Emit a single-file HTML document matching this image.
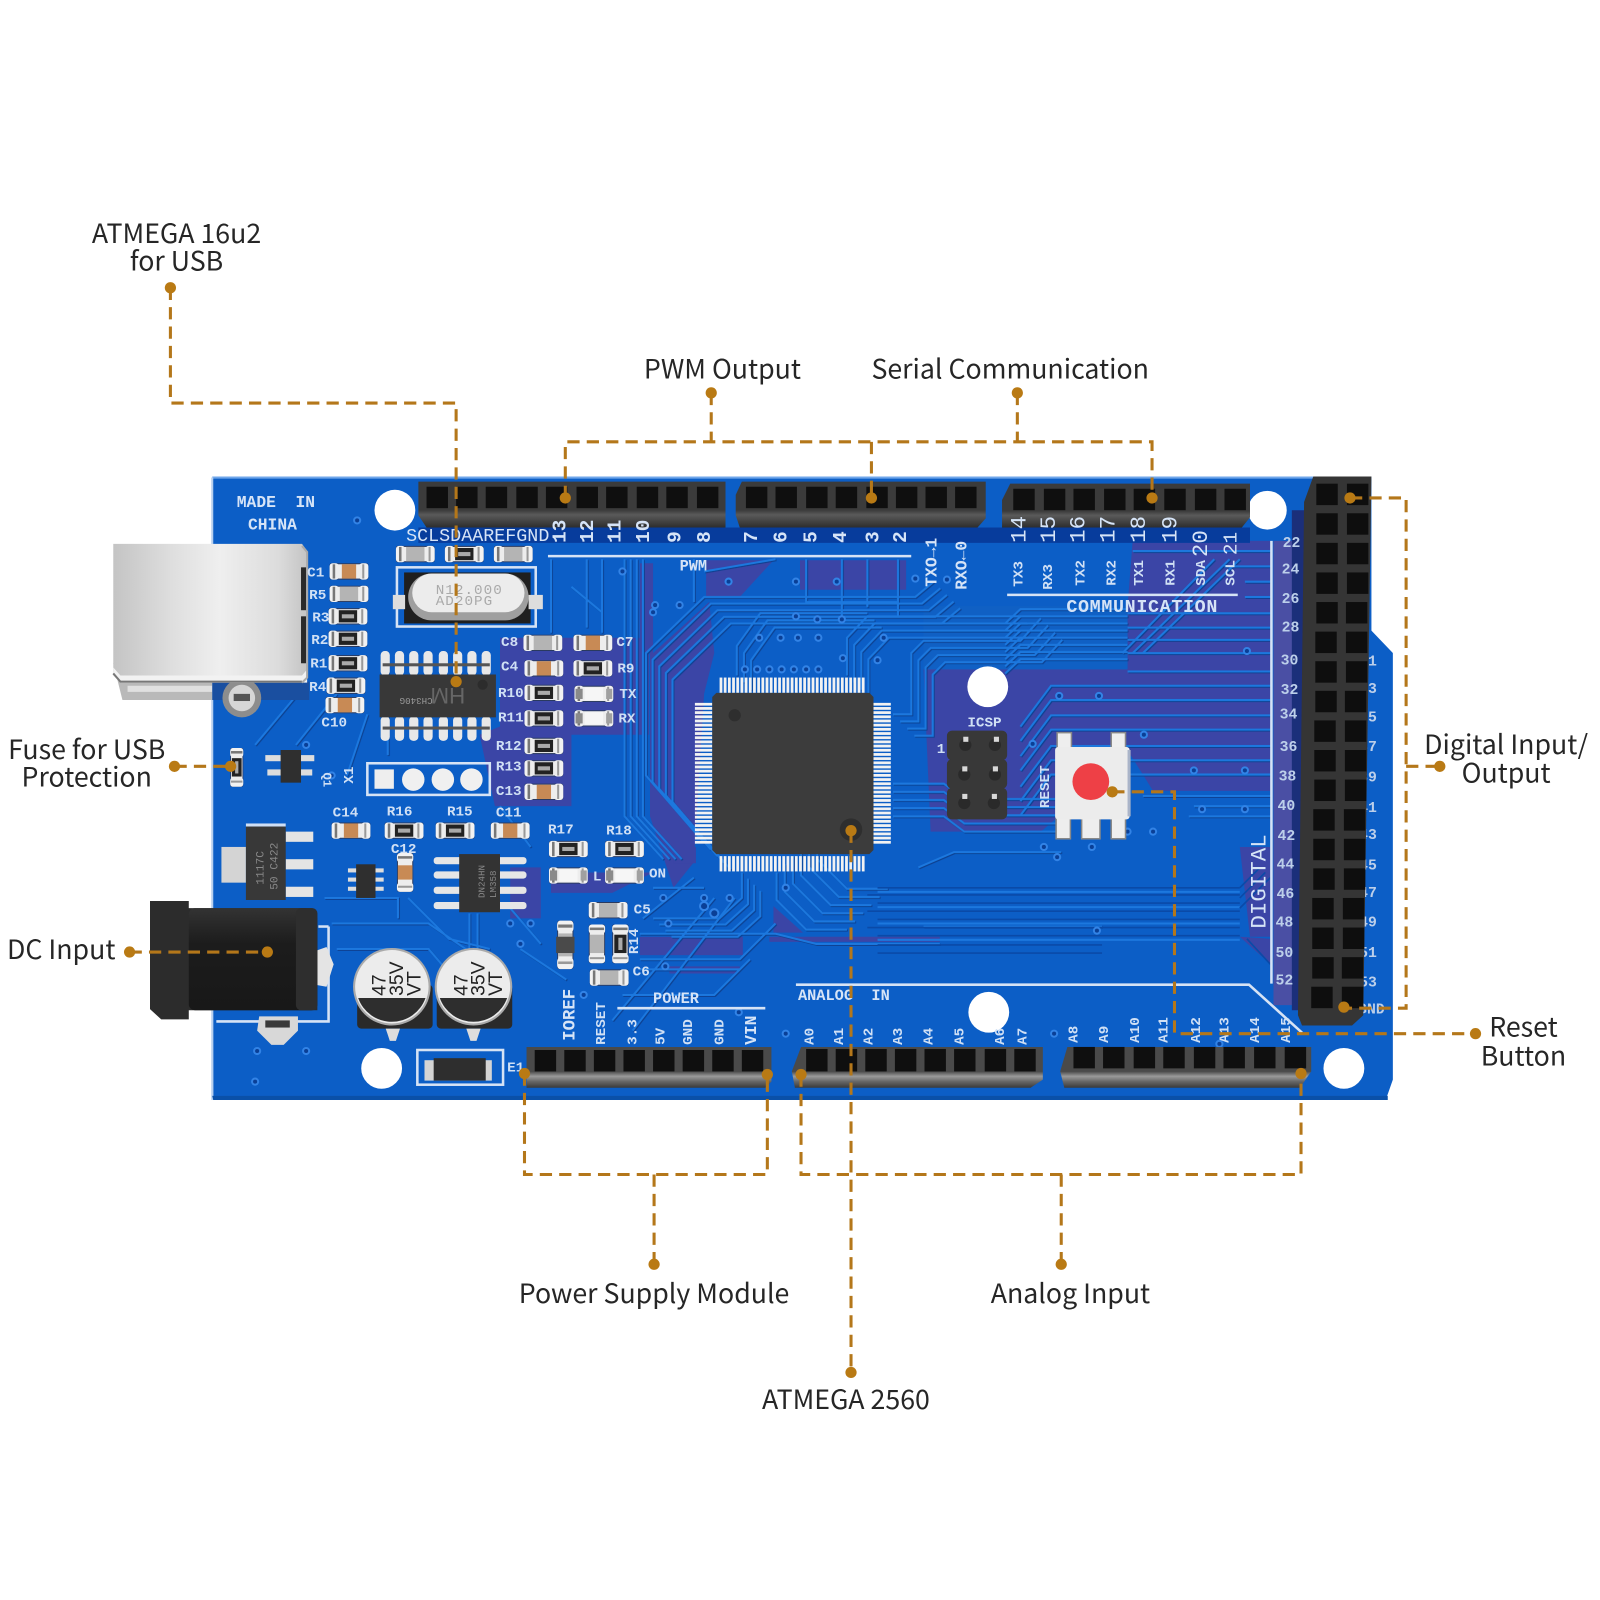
<!DOCTYPE html>
<html><head><meta charset="utf-8"><style>
html,body{margin:0;padding:0;background:#fff}
svg{display:block;width:1600px;height:1600px}
.l{font-family:"Noto Sans CJK SC","Liberation Sans",sans-serif;font-size:26.2px;fill:#262626;text-anchor:middle}
.s{font-family:"Liberation Mono",monospace;font-size:16px;fill:#d6e4f7;font-weight:bold}
.n{font-family:"Liberation Mono",monospace;font-size:14.5px;fill:#bccfea;font-weight:bold}
.r{font-family:"Liberation Mono",monospace;font-size:14px;fill:#d0e0f5;font-weight:bold}
.c{fill:none;stroke:#b4771a;stroke-width:3;stroke-dasharray:12 7}
.d{fill:#b97a14}
.t{fill:none;stroke:#1c78de;stroke-width:2}
.k{fill:none;stroke:#0a4aa8;stroke-width:1.6}
</style></head><body>
<svg viewBox="0 0 1568 1568" xmlns="http://www.w3.org/2000/svg">
<defs>
<filter id="sh" x="-5%" y="-5%" width="110%" height="110%"><feDropShadow dx="0.9" dy="0.9" stdDeviation="0" flood-color="#08408f"/></filter>
<linearGradient id="usb" x1="0" x2="1" y1="0" y2="0"><stop offset="0" stop-color="#c4c4c4"/><stop offset=".3" stop-color="#dedede"/><stop offset=".55" stop-color="#efefef"/><stop offset=".85" stop-color="#dcdcdc"/><stop offset="1" stop-color="#c4c4c4"/></linearGradient>
<linearGradient id="jack" x1="0" x2="0" y1="0" y2="1"><stop offset="0" stop-color="#333"/><stop offset=".35" stop-color="#1c1c1c"/><stop offset="1" stop-color="#181818"/></linearGradient>
<linearGradient id="hb" x1="0" x2="0" y1="0" y2="1"><stop offset="0" stop-color="#3b3b3b"/><stop offset=".62" stop-color="#3b3b3b"/><stop offset=".72" stop-color="#5a5a5a"/><stop offset="1" stop-color="#2d2d2d"/></linearGradient>
<linearGradient id="hb2" x1="0" x2="0" y1="0" y2="1"><stop offset="0" stop-color="#4a4a4a"/><stop offset=".6" stop-color="#4a4a4a"/><stop offset=".72" stop-color="#9a9a9a"/><stop offset=".85" stop-color="#666"/><stop offset="1" stop-color="#3a3a3a"/></linearGradient>
<g id="smd"><rect x="-19" y="-8" width="38" height="16" rx="2" fill="#2a3a60"/><rect x="-19" y="-8" width="9" height="16" rx="3" fill="#f2f2f2"/><rect x="10" y="-8" width="9" height="16" rx="3" fill="#f2f2f2"/><rect x="-13" y="-7" width="26" height="14" fill="#ededed"/><rect x="-16" y="-7" width="2.5" height="14" fill="#777"/><rect x="13" y="-7" width="2" height="14" fill="#999"/></g>
<g id="cap"><use href="#smd"/><rect x="-7" y="-7" width="14" height="14" fill="#c88a55"/></g>
<g id="gry"><use href="#smd"/><rect x="-9" y="-7" width="18" height="14" fill="#b4b4b4"/></g>
<g id="res"><use href="#smd"/><rect x="-9" y="-6" width="18" height="12" fill="#222"/><rect x="-6" y="-2" width="12" height="4" fill="#aaa"/></g>
<g id="led"><use href="#smd"/><rect x="-9" y="-6" width="18" height="12" fill="#f6f6f6"/><rect x="-18" y="-5" width="7" height="10" fill="#8a8a8a"/><rect x="12" y="-5" width="6" height="10" fill="#a0a0a0"/></g>
<pattern id="tp" x="0" y="0" width="4.1" height="15" patternUnits="userSpaceOnUse"><rect width="2.7" height="15" fill="#f2f2f2"/></pattern>
<pattern id="lp" x="0" y="0" width="15" height="4.1" patternUnits="userSpaceOnUse"><rect width="15" height="2.7" fill="#f2f2f2"/></pattern>
<path id="t2" class="t" d="M1000 712L1030 672H1245"/>
<path id="t5" class="t" d="M690 826L633 760V640L690 585H897L915 570"/>
<path id="t6" class="t" d="M761 855V882L790 911H830"/>
<path id="t7" class="t" d="M612 548V800L650 842"/>
<path id="t9" class="t" d="M722 662V633L745 601H850"/>
<path id="t10" class="t" d="M830 662V625L850 604H1000"/>
<path id="t11" class="t" d="M875 700H893V640L905 628H1000L1020 606"/>
<path id="t12" class="t" d="M875 800H925L945 815H1035"/>
<path id="t13" class="t" d="M727 855V880L705 900H640"/>
<path id="t14" class="t" d="M985 660L1000 646H1105"/>
</defs>

<!-- board -->
<path d="M208 468H1344V618L1365 640V1058L1358 1078H209Z" fill="#0c5ec6"/>
<path d="M208 468H1344" stroke="#6fa6ea" stroke-width="2"/>
<path d="M208 468V1078" stroke="#b8d0ee" stroke-width="2"/>
<path d="M208 1074H1360V1078H209Z" fill="#0a50a8"/>
<!-- purple zones -->
<g fill="#3b45a6">
<path d="M490 625L636 625V720L560 720L560 790L485 790L470 720L490 712Z"/>
<path d="M627 552H640V640L695 590L700 640L690 680L680 845L660 870L637 800V640L627 637Z"/>
<path d="M692 549H758L725 585H692Z"/>
<path d="M784 549H888V578H784Z"/>
<path d="M905 655H1105V594L1110 530H1245V775H1130L1108 740H1108L1020 815H912Z"/>
<path d="M627 918H728V936H627Z"/><path d="M656 947H725V954H656Z"/><path d="M758 888L787 914L758 914Z"/><path d="M754 918H921V923H754Z"/>
<path d="M660 830H682V846H660Z"/><path d="M540 855H640L600 875H540Z"/>
<path d="M1215 918L1245 945V920Z"/><path d="M1215 830H1245V918H1225Z"/>
<path d="M500 850H530V900H500Z"/>
</g>
<rect x="905" y="594" width="200" height="62" fill="#1060c4"/>
<path d="M410 517H1225V532H410Z" fill="#073c9c"/>
<path d="M1248 530H1272V985H1248Z" fill="#4a4fa4"/>
<path d="M1266 500H1282V990H1266Z" fill="#1b2f7a"/>
<!-- traces -->
<g filter="url(#sh)">
<use href="#t5"/><use href="#t5" x="6.5" y="6.5"/><use href="#t5" x="13" y="13"/><use href="#t5" x="19.5" y="19.5"/><use href="#t5" x="26" y="26"/>
<use href="#t6" x="0"/><use href="#t6" x="8" y="-8"/><use href="#t6" x="16" y="-16"/><use href="#t6" x="24" y="-24"/><use href="#t6" x="32" y="-32"/><use href="#t6" x="40" y="-40"/>
<use href="#t7"/><use href="#t7" x="6"/><use href="#t7" x="12"/><use href="#t7" x="18"/>
<use href="#t9"/><use href="#t9" x="7" y="7"/><use href="#t9" x="14" y="14"/>
<use href="#t10"/><use href="#t10" x="7" y="7"/><use href="#t10" x="14" y="14"/><use href="#t10" x="21" y="21"/>
<use href="#t11"/><use href="#t11" x="7" y="7"/><use href="#t11" x="14" y="14"/><use href="#t11" x="21" y="21"/>
<use href="#t12"/><use href="#t12" y="-8"/><use href="#t12" y="-16"/><use href="#t12" y="-24"/><use href="#t12" y="-32"/>
<use href="#t13"/><use href="#t13" x="6" y="6"/><use href="#t13" x="12" y="12"/><use href="#t13" x="18" y="18"/>
<use href="#t14"/><use href="#t14" y="-7"/><use href="#t14" y="-14"/><use href="#t14" y="-21"/><use href="#t14" y="-28"/><use href="#t14" y="-35"/><use href="#t14" y="-42"/><use href="#t14" y="-49"/>
<use href="#t2"/><use href="#t2" y="14"/><use href="#t2" y="29"/><use href="#t2" y="43"/><use href="#t2" y="59"/><use href="#t2" y="73"/><use href="#t2" y="87"/>
<path class="t" d="M1105 601H1245M1105 615H1245M1105 627H1245M1105 640H1245M1105 658H1245"/>
<path class="t" d="M1100 640L1190 548M1110 640L1205 548M1120 640L1215 548"/>
<path class="t" d="M1245 540H1110M1245 555H1200M1245 570H1220M1245 585H1220"/>
<path class="t" d="M1120 780H1245M1170 790H1245M1165 800H1245"/>
<path class="t" d="M680 548V590M690 560L760 548M790 548V590H880V548M825 548V610M850 548V595M880 548V605"/>
<path class="t" d="M540 548V620M575 548V615M590 548V620M560 575L590 600"/>
<path class="t" d="M325 905H420L500 960M330 930H420L480 1000M318 880H390V900M400 880L440 920L480 930M460 895V935M468 895V935"/>
<path class="t" d="M640 870H690M630 900L680 860M600 1000L700 880M620 1010L720 880M500 890L530 925M510 930L555 960"/>
<path class="t" d="M627 915H760L800 925H921M627 940H725L760 905M627 950H725M610 975H700L735 940"/>
<path class="t" d="M905 908H1080M900 850L935 835H1040"/>
<path class="t" d="M300 670L250 730M330 680L290 730M380 650V740M360 700L340 760M490 790L520 830"/>
</g>
<g>
<path class="k" d="M860 870H1215M850 877H1215M860 885H1215M850 893H1215M860 901H1215M850 909H1215M860 917H1215M860 926H1080M860 934H1080"/>
<path class="t" d="M860 874H1215M860 889H1215M860 905H1215M860 921H1215"/>
<path class="k" d="M1215 870L1235 850M1215 880L1240 855M1215 890L1245 860M1222 920L1245 945"/>
</g>
<!-- vias -->
<g fill="#0a3f96" stroke="#3283e6" stroke-width="2">
<circle cx="610" cy="560" r="3"/><circle cx="640" cy="600" r="3"/><circle cx="642" cy="593" r="3"/><circle cx="666" cy="593" r="3"/><circle cx="714" cy="570" r="3"/><circle cx="780" cy="570" r="3"/><circle cx="820" cy="570" r="3"/><circle cx="897" cy="567" r="3"/><circle cx="928" cy="568" r="3"/><circle cx="780" cy="604" r="3"/><circle cx="801" cy="607" r="3"/><circle cx="825" cy="607" r="3"/><circle cx="744" cy="625" r="3"/><circle cx="765" cy="625" r="3"/><circle cx="782" cy="625" r="3"/><circle cx="802" cy="625" r="3"/><circle cx="866" cy="625" r="3"/><circle cx="860" cy="647" r="3"/><circle cx="826" cy="645" r="3"/><circle cx="730" cy="656" r="3"/><circle cx="742" cy="656" r="3"/><circle cx="754" cy="656" r="3"/><circle cx="766" cy="656" r="3"/><circle cx="778" cy="656" r="3"/><circle cx="790" cy="656" r="3"/><circle cx="802" cy="656" r="3"/><circle cx="1222" cy="638" r="3"/><circle cx="1038" cy="682" r="3"/><circle cx="1077" cy="682" r="3"/><circle cx="1121" cy="720" r="3"/><circle cx="1012" cy="729" r="3"/><circle cx="1170" cy="755" r="3"/><circle cx="1220" cy="755" r="3"/><circle cx="1178" cy="793" r="3"/><circle cx="1220" cy="793" r="3"/><circle cx="1105" cy="815" r="3"/><circle cx="1130" cy="815" r="3"/><circle cx="1070" cy="830" r="3"/><circle cx="1075" cy="912" r="3"/><circle cx="1023" cy="830" r="3"/><circle cx="1036" cy="840" r="3"/><circle cx="690" cy="880" r="3"/><circle cx="715" cy="880" r="3"/><circle cx="770" cy="870" r="3"/><circle cx="650" cy="880" r="3"/><circle cx="690" cy="888" r="4"/><circle cx="700" cy="895" r="4"/><circle cx="655" cy="905" r="3"/><circle cx="652" cy="947" r="3"/><circle cx="572" cy="975" r="3"/><circle cx="350" cy="510" r="3"/><circle cx="325" cy="760" r="3"/><circle cx="300" cy="730" r="3"/><circle cx="252" cy="1030" r="3"/><circle cx="300" cy="1030" r="3"/><circle cx="250" cy="1060" r="3"/><circle cx="1195" cy="1023" r="3"/><circle cx="1033" cy="1013" r="3"/><circle cx="770" cy="1013" r="3"/><circle cx="724" cy="992" r="3"/><circle cx="500" cy="905" r="3"/><circle cx="510" cy="925" r="3"/><circle cx="520" cy="905" r="3"/></g>

<!-- holes -->
<g fill="#fff"><circle cx="387" cy="500" r="20"/><circle cx="374" cy="1047" r="20"/><circle cx="968" cy="673" r="20"/><circle cx="969" cy="992" r="20"/><circle cx="1242" cy="500" r="19"/><circle cx="1317" cy="1047" r="20"/></g>

<!-- silk lines -->
<g stroke="#d6e3f5" stroke-width="2.5" fill="none">
<path d="M537 545H893M987 583H1213M1246 530V964M780 965H1224L1276 1012M605 988H750"/>
<rect x="360" y="748" width="120" height="31"/>
<rect x="389" y="556" width="136" height="58"/>
<rect x="409" y="1029" width="84" height="34"/>
<path d="M322 908V1001H212"/><path d="M312 908H322"/>
</g>

<!-- USB -->
<path d="M111 650H208V686H120Z" fill="#b9b9b9"/>
<path d="M125 672H208V678H125Z" fill="#e0e0e0"/>
<rect x="208" y="668" width="95" height="18" fill="#1a4fa0"/>
<circle cx="237" cy="684" r="19" fill="#8d8d8d"/><circle cx="237" cy="684" r="13" fill="#d6d6d6"/><rect x="229" y="680" width="16" height="7" fill="#555"/>
<path d="M111 533H296L301 540V664L296 669H118L111 662Z" fill="url(#usb)"/>
<path d="M111 654L118 662H296L301 656V669H118L111 662Z" fill="#f2f2f2"/>
<path d="M111 660L118 668H296" fill="none" stroke="#777" stroke-width="2"/>
<rect x="295" y="556" width="5" height="42" fill="#2a2a2a"/><rect x="295" y="604" width="5" height="46" fill="#2a2a2a"/>
<path d="M296 535L301 541V664L296 669" fill="none" stroke="#aaa" stroke-width="2"/>

<!-- DC jack -->
<path d="M309 932L320 928L327 945L320 967L309 965Z" fill="#e4e4e4"/>
<path d="M254 996H292V1010L278 1024H266L252 1010Z" fill="#d8d8d8"/><rect x="260" y="1000" width="24" height="7" fill="#3a3a3a"/>
<path d="M147 883H185V890H300L311 900V990H185V999H158L147 989Z" fill="#2c2c2c"/>
<rect x="185" y="890" width="126" height="100" rx="6" fill="url(#jack)"/>
<rect x="290" y="890" width="21" height="100" rx="5" fill="#2e2e2e"/>

<!-- caps -->
<g>
<rect x="350" y="965" width="74" height="43" rx="4" fill="#2a2a2a"/>
<rect x="428" y="965" width="74" height="43" rx="4" fill="#2a2a2a"/>
<circle cx="384" cy="967" r="38" fill="#aaa"/><circle cx="384" cy="967" r="36" fill="#ececec"/><path d="M351 978A35 35 0 0 0 417 978Z" fill="#2e2e2e"/>
<circle cx="464" cy="967" r="38" fill="#aaa"/><circle cx="464" cy="967" r="36" fill="#ececec"/><path d="M431 978A35 35 0 0 0 497 978Z" fill="#2e2e2e"/>
<g font-family="Liberation Sans,sans-serif" font-size="19" fill="#222">
<text transform="translate(378,976) rotate(-90)">47</text><text transform="translate(395,976) rotate(-90)">35V</text><text transform="translate(412,976) rotate(-90)">VT</text>
<text transform="translate(458,976) rotate(-90)">47</text><text transform="translate(475,976) rotate(-90)">35V</text><text transform="translate(492,976) rotate(-90)">VT</text>
</g>
<path d="M378 1008h14l-4 12h-6zM457 1008h14l-4 12h-6z" fill="#ddd"/>
</g>

<!-- diode -->
<rect x="416" y="1039" width="66" height="20" fill="#d4d4d4"/><rect x="425" y="1037" width="51" height="22" fill="#2e2e2e"/>

<!-- crystal -->
<rect x="396" y="561" width="124" height="50" fill="#1f1f1f"/>
<rect x="385" y="583" width="12" height="14" fill="#ddd"/><rect x="518" y="583" width="14" height="14" fill="#ddd"/>
<rect x="400" y="562" width="118" height="46" rx="23" fill="#9f9f9f"/><rect x="404" y="562" width="110" height="38" rx="19" fill="#ececec"/>
<text x="427" y="582" font-family="Liberation Mono,monospace" font-size="14" fill="#aaa" letter-spacing="1">N12.000</text>
<text x="427" y="593" font-family="Liberation Mono,monospace" font-size="14" fill="#aaa" letter-spacing="1">AD20PG</text>

<!-- CH340 -->
<g fill="#e8e8e8">
<rect x="373" y="638" width="9" height="24" rx="4"/><rect x="387" y="638" width="9" height="24" rx="4"/><rect x="401" y="638" width="9" height="24" rx="4"/><rect x="415" y="638" width="9" height="24" rx="4"/><rect x="430" y="638" width="9" height="24" rx="4"/><rect x="444" y="638" width="9" height="24" rx="4"/><rect x="458" y="638" width="9" height="24" rx="4"/><rect x="472" y="638" width="9" height="24" rx="4"/>
<rect x="373" y="702" width="9" height="24" rx="4"/><rect x="387" y="702" width="9" height="24" rx="4"/><rect x="401" y="702" width="9" height="24" rx="4"/><rect x="415" y="702" width="9" height="24" rx="4"/><rect x="430" y="702" width="9" height="24" rx="4"/><rect x="444" y="702" width="9" height="24" rx="4"/><rect x="458" y="702" width="9" height="24" rx="4"/><rect x="472" y="702" width="9" height="24" rx="4"/></g>
<g fill="#555"><rect x="375" y="650" width="105" height="3"/><rect x="375" y="712" width="105" height="3"/></g>
<rect x="372" y="661" width="114" height="42" fill="#383838"/>
<circle cx="473" cy="671" r="5" fill="#2c2c2c"/>
<text transform="translate(424,684) rotate(180)" font-family="Liberation Mono,monospace" font-size="9" fill="#999">CH340G</text>
<text transform="translate(456,674) rotate(180)" font-family="Liberation Sans,sans-serif" font-size="22" fill="#666">HM</text>

<!-- SMDs -->
<use href="#cap" x="342" y="560"/><use href="#gry" x="342" y="582"/><use href="#res" x="341" y="604"/><use href="#res" x="341" y="626"/><use href="#res" x="341" y="650"/><use href="#res" x="339" y="672"/><use href="#cap" x="338" y="691"/>
<use href="#gry" x="407" y="543"/><use href="#res" x="455" y="543"/><use href="#gry" x="503" y="543"/>
<use href="#gry" x="532" y="630"/><use href="#cap" x="581" y="630"/><use href="#cap" x="533" y="655"/><use href="#res" x="581" y="655"/><use href="#res" x="533" y="679"/><use href="#led" x="582" y="680"/><use href="#res" x="533" y="704"/><use href="#led" x="582" y="704"/><use href="#res" x="533" y="731"/><use href="#res" x="533" y="753"/><use href="#cap" x="533" y="776"/>
<use href="#cap" x="344" y="814"/><use href="#res" x="396" y="814"/><use href="#res" x="446" y="814"/><use href="#cap" x="500" y="814"/>
<use href="#res" x="557" y="832"/><use href="#res" x="612" y="832"/><use href="#led" x="557" y="858"/><use href="#led" x="612" y="858"/>
<use href="#gry" x="596" y="892"/><use href="#gry" x="597" y="958"/>
<use href="#gry" transform="translate(554,926) rotate(90) scale(1.25,1)"/><rect x="545" y="918" width="18" height="16" fill="#4a4a4a"/>
<use href="#gry" transform="translate(585,925) rotate(90)"/><use href="#res" transform="translate(608,925) rotate(90)"/>
<use href="#cap" transform="translate(397,855) rotate(90)"/><use href="#res" transform="translate(232,752) rotate(90) scale(1,.8)"/>

<!-- Q1 -->
<rect x="260" y="740" width="48" height="6" fill="#ddd"/><rect x="262" y="754" width="44" height="6" fill="#ddd"/><rect x="275" y="735" width="20" height="32" fill="#2f2f2f"/>
<!-- 1117 -->
<rect x="217" y="830" width="24" height="35" fill="#d4d4d4"/>
<rect x="280" y="815" width="27" height="10" fill="#e4e4e4"/><rect x="280" y="842" width="27" height="10" fill="#e4e4e4"/><rect x="280" y="869" width="27" height="10" fill="#e4e4e4"/>
<rect x="241" y="807" width="39" height="3" fill="#cfdff5"/>
<rect x="241" y="810" width="39" height="72" fill="#383838"/>
<text transform="translate(258,867) rotate(-90)" font-family="Liberation Mono,monospace" font-size="11" fill="#888">1117C</text>
<text transform="translate(272,872) rotate(-90)" font-family="Liberation Mono,monospace" font-size="11" fill="#888">50 C422</text>
<!-- small chip -->
<g fill="#ddd"><rect x="341" y="851" width="35" height="4"/><rect x="341" y="860" width="35" height="4"/><rect x="341" y="869" width="35" height="4"/></g><rect x="349" y="847" width="19" height="33" fill="#2f2f2f"/>
<!-- LM358 -->
<g fill="#e6e6e6"><rect x="425" y="840" width="91" height="7" rx="3"/><rect x="425" y="854" width="91" height="7" rx="3"/><rect x="425" y="869" width="91" height="7" rx="3"/><rect x="425" y="884" width="91" height="7" rx="3"/></g>
<rect x="450" y="837" width="40" height="57" fill="#333"/>
<text transform="translate(475,880) rotate(-90)" font-family="Liberation Mono,monospace" font-size="9" fill="#888">DN24HN</text>
<text transform="translate(486,880) rotate(-90)" font-family="Liberation Mono,monospace" font-size="9" fill="#888">LM358</text>

<!-- X1 pads -->
<rect x="367" y="754" width="19" height="19" fill="#eee"/><circle cx="405" cy="764" r="11" fill="#f0f0f0"/><circle cx="434" cy="764" r="11" fill="#f0f0f0"/><circle cx="462" cy="764" r="11" fill="#f0f0f0"/>

<!-- MCU -->
<rect x="705" y="664" width="143" height="15" fill="url(#tp)"/><rect x="705" y="839" width="143" height="15" fill="url(#tp)"/>
<rect x="681" y="688" width="17" height="140" fill="url(#lp)"/><rect x="856" y="688" width="17" height="140" fill="url(#lp)"/>
<path d="M702 679H852L856 683V833L852 837H702L698 833V683Z" fill="#3c3c3c"/>
<circle cx="720" cy="701" r="6" fill="#2e2e2e"/><circle cx="834" cy="813" r="11" fill="#2e2e2e"/>

<!-- ICSP -->
<g><rect x="928" y="716" width="59" height="29" rx="5" fill="#383838"/><rect x="928" y="744" width="59" height="29" rx="5" fill="#383838"/><rect x="928" y="772" width="59" height="31" rx="5" fill="#383838"/>
<g fill="#2a2a2a"><circle cx="946" cy="730" r="6"/><circle cx="975" cy="730" r="6"/><circle cx="945" cy="759" r="6"/><circle cx="975" cy="759" r="6"/><circle cx="945" cy="787" r="6"/><circle cx="974" cy="787" r="6"/></g>
<g fill="#d8d8d8"><rect x="944" y="722" width="5" height="5"/><rect x="974" y="722" width="5" height="5"/><rect x="943" y="751" width="5" height="5"/><rect x="973" y="751" width="5" height="5"/><rect x="943" y="778" width="5" height="5"/><rect x="972" y="778" width="5" height="5"/></g></g>
<text x="918" y="738" class="r">1</text>

<!-- Reset -->
<g fill="#eee" stroke="#888" stroke-width="1.5"><rect x="1036" y="718" width="14" height="16"/><rect x="1089" y="718" width="14" height="16"/><rect x="1035" y="801" width="14" height="21"/><rect x="1089" y="801" width="14" height="21"/><rect x="1060" y="801" width="18" height="21"/></g>
<rect x="1034" y="732" width="73" height="71" rx="3" fill="#ececec"/><rect x="1105" y="735" width="3" height="65" fill="#aab4c8"/><circle cx="1069" cy="766" r="18" fill="#ee4046"/>

<!-- right pin numbers (partly under header) -->
<g>
<text x="1332" y="652" class="n">31</text><text x="1332" y="679" class="n">33</text><text x="1332" y="707" class="n">35</text><text x="1332" y="736" class="n">37</text><text x="1332" y="766" class="n">39</text><text x="1332" y="796" class="n">41</text><text x="1332" y="822" class="n">43</text><text x="1332" y="852" class="n">45</text><text x="1332" y="879" class="n">47</text><text x="1332" y="908" class="n">49</text><text x="1332" y="938" class="n">51</text><text x="1332" y="967" class="n">53</text><text x="1331" y="993" class="n">GND</text>
</g>

<!-- headers -->
<g>
<path d="M410 472H711V517H418L410 505Z" fill="url(#hb)"/>
<path d="M727 472H966V508L958 517H725L721 505V485Z" fill="url(#hb)"/>
<path d="M990 474H1225V507L1217 517H982V490Z" fill="url(#hb)"/>
<path d="M516 1026H756V1060L750 1066H516Z" fill="url(#hb2)"/>
<path d="M785 1026H1022V1058L1010 1066H779L776 1050Z" fill="url(#hb2)"/>
<path d="M1046 1026H1285V1050L1274 1066H1043L1039 1050Z" fill="url(#hb2)"/>
<g fill="#0f0f0f">
<rect x="418" y="477" width="21" height="21"/><rect x="447" y="477" width="21" height="21"/><rect x="476" y="477" width="21" height="21"/><rect x="506" y="477" width="21" height="21"/><rect x="535" y="477" width="21" height="21"/><rect x="565" y="477" width="21" height="21"/><rect x="594" y="477" width="21" height="21"/><rect x="624" y="477" width="21" height="21"/><rect x="653" y="477" width="21" height="21"/><rect x="683" y="477" width="21" height="21"/>
<rect x="731" y="477" width="21" height="21"/><rect x="760" y="477" width="21" height="21"/><rect x="790" y="477" width="21" height="21"/><rect x="819" y="477" width="21" height="21"/><rect x="849" y="477" width="21" height="21"/><rect x="878" y="477" width="21" height="21"/><rect x="907" y="477" width="21" height="21"/><rect x="936" y="477" width="21" height="21"/>
<rect x="993" y="479" width="21" height="21"/><rect x="1023" y="479" width="21" height="21"/><rect x="1052" y="479" width="21" height="21"/><rect x="1082" y="479" width="21" height="21"/><rect x="1111" y="479" width="21" height="21"/><rect x="1141" y="479" width="21" height="21"/><rect x="1171" y="479" width="21" height="21"/><rect x="1200" y="479" width="21" height="21"/>
<rect x="524" y="1029" width="21" height="21"/><rect x="553" y="1029" width="21" height="21"/><rect x="582" y="1029" width="21" height="21"/><rect x="611" y="1029" width="21" height="21"/><rect x="640" y="1029" width="21" height="21"/><rect x="669" y="1029" width="21" height="21"/><rect x="698" y="1029" width="21" height="21"/><rect x="727" y="1029" width="21" height="21"/>
<rect x="790" y="1028" width="21" height="22"/><rect x="819" y="1028" width="21" height="22"/><rect x="848" y="1028" width="21" height="22"/><rect x="877" y="1028" width="21" height="22"/><rect x="906" y="1028" width="21" height="22"/><rect x="935" y="1028" width="21" height="22"/><rect x="965" y="1028" width="21" height="22"/><rect x="994" y="1028" width="21" height="22"/>
<rect x="1052" y="1026" width="21" height="21"/><rect x="1081" y="1026" width="21" height="21"/><rect x="1111" y="1026" width="21" height="21"/><rect x="1140" y="1026" width="21" height="21"/><rect x="1170" y="1026" width="21" height="21"/><rect x="1199" y="1026" width="21" height="21"/><rect x="1229" y="1026" width="21" height="21"/><rect x="1259" y="1026" width="21" height="21"/>
</g>
<path d="M1287 467H1344L1336 995L1325 1005H1276L1272 995L1278 492Z" fill="#353535"/>
<g fill="#0e0e0e">
<rect x="1290" y="474" width="21" height="21"/><rect x="1320" y="474" width="21" height="21"/><rect x="1290" y="503" width="21" height="21"/><rect x="1320" y="503" width="21" height="21"/><rect x="1290" y="532" width="21" height="21"/><rect x="1320" y="532" width="21" height="21"/><rect x="1290" y="561" width="21" height="21"/><rect x="1320" y="561" width="21" height="21"/><rect x="1290" y="590" width="21" height="21"/><rect x="1319" y="590" width="21" height="21"/><rect x="1289" y="619" width="21" height="21"/><rect x="1319" y="619" width="21" height="21"/><rect x="1289" y="648" width="21" height="21"/><rect x="1319" y="648" width="21" height="21"/><rect x="1289" y="677" width="21" height="21"/><rect x="1318" y="677" width="21" height="21"/><rect x="1288" y="706" width="21" height="21"/><rect x="1318" y="706" width="21" height="21"/><rect x="1288" y="735" width="21" height="21"/><rect x="1318" y="735" width="21" height="21"/><rect x="1288" y="764" width="21" height="21"/><rect x="1318" y="764" width="21" height="21"/><rect x="1287" y="793" width="21" height="21"/><rect x="1317" y="793" width="21" height="21"/><rect x="1287" y="822" width="21" height="21"/><rect x="1317" y="822" width="21" height="21"/><rect x="1287" y="851" width="21" height="21"/><rect x="1317" y="851" width="21" height="21"/><rect x="1286" y="880" width="21" height="21"/><rect x="1316" y="880" width="21" height="21"/><rect x="1286" y="909" width="21" height="21"/><rect x="1316" y="909" width="21" height="21"/><rect x="1286" y="938" width="21" height="21"/><rect x="1315" y="938" width="21" height="21"/><rect x="1285" y="967" width="21" height="21"/><rect x="1315" y="967" width="21" height="21"/>
</g>
</g>

<!-- silk text -->
<g class="s">
<text x="232" y="497" xml:space="preserve" class="s">MADE  IN</text>
<text x="243" y="519" class="s">CHINA</text>
<text x="398" y="530" class="s" style="font-size:18px;font-weight:normal">SCLSDAAREFGND</text>
<text x="666" y="559" class="s" style="font-size:15px">PWM</text>
<text x="1045" y="600" class="s" style="font-size:18px" textLength="148">COMMUNICATION</text>
<text x="640" y="983" class="s" style="font-size:15px">POWER</text>
<text x="782" y="980" class="s" xml:space="preserve" style="font-size:15px">ANALOG  IN</text>
<text x="948" y="712" class="r">ICSP</text>
</g>
<g>
<text transform="translate(554,532) rotate(-90)" class="s" style="font-size:19px">13</text><text transform="translate(581,532) rotate(-90)" class="s" style="font-size:19px">12</text><text transform="translate(608,532) rotate(-90)" class="s" style="font-size:19px">11</text><text transform="translate(636,532) rotate(-90)" class="s" style="font-size:19px">10</text><text transform="translate(667,532) rotate(-90)" class="s" style="font-size:19px">9</text><text transform="translate(696,532) rotate(-90)" class="s" style="font-size:19px">8</text>
<text transform="translate(742,532) rotate(-90)" class="s" style="font-size:19px">7</text><text transform="translate(771,532) rotate(-90)" class="s" style="font-size:19px">6</text><text transform="translate(800,532) rotate(-90)" class="s" style="font-size:19px">5</text><text transform="translate(829,532) rotate(-90)" class="s" style="font-size:19px">4</text><text transform="translate(861,532) rotate(-90)" class="s" style="font-size:19px">3</text><text transform="translate(888,532) rotate(-90)" class="s" style="font-size:19px">2</text>
<text transform="translate(918,575) rotate(-90)" class="s">TXO→1</text><text transform="translate(947,578) rotate(-90)" class="s">RXO←0</text>
<text transform="translate(1005,532) rotate(-90)" class="s" style="font-size:22px;font-weight:normal">14</text><text transform="translate(1034,532) rotate(-90)" class="s" style="font-size:22px;font-weight:normal">15</text><text transform="translate(1063,532) rotate(-90)" class="s" style="font-size:22px;font-weight:normal">16</text><text transform="translate(1092,532) rotate(-90)" class="s" style="font-size:22px;font-weight:normal">17</text><text transform="translate(1122,532) rotate(-90)" class="s" style="font-size:22px;font-weight:normal">18</text><text transform="translate(1153,532) rotate(-90)" class="s" style="font-size:22px;font-weight:normal">19</text><text transform="translate(1183,546) rotate(-90)" class="s" style="font-size:22px;font-weight:normal">20</text><text transform="translate(1212,544) rotate(-90)" class="s" style="font-size:19px;font-weight:normal">21</text>
</g>
<g>
<text transform="translate(1002,575) rotate(-90)" class="r">TX3</text><text transform="translate(1031,578) rotate(-90)" class="r">RX3</text><text transform="translate(1063,574) rotate(-90)" class="r">TX2</text><text transform="translate(1093,574) rotate(-90)" class="r">RX2</text><text transform="translate(1120,574) rotate(-90)" class="r">TX1</text><text transform="translate(1151,574) rotate(-90)" class="r">RX1</text><text transform="translate(1181,574) rotate(-90)" class="r">SDA</text><text transform="translate(1210,574) rotate(-90)" class="r">SCL</text>
<text transform="translate(1028,792) rotate(-90)" class="r">RESET</text>
<text transform="translate(563,1020) rotate(-90)" class="s" style="font-size:17px">IOREF</text>
<text transform="translate(593,1024) rotate(-90)" class="r">RESET</text><text transform="translate(624,1024) rotate(-90)" class="r">3.3</text><text transform="translate(651,1024) rotate(-90)" class="r">5V</text><text transform="translate(678,1024) rotate(-90)" class="r">GND</text><text transform="translate(709,1024) rotate(-90)" class="r">GND</text><text transform="translate(741,1024) rotate(-90)" class="s">VIN</text>
<text transform="translate(797,1024) rotate(-90)" class="r">A0</text><text transform="translate(826,1024) rotate(-90)" class="r">A1</text><text transform="translate(855,1024) rotate(-90)" class="r">A2</text><text transform="translate(884,1024) rotate(-90)" class="r">A3</text><text transform="translate(914,1024) rotate(-90)" class="r">A4</text><text transform="translate(944,1024) rotate(-90)" class="r">A5</text><text transform="translate(984,1024) rotate(-90)" class="r">A6</text><text transform="translate(1006,1024) rotate(-90)" class="r">A7</text>
<text transform="translate(1056,1022) rotate(-90)" class="r">A8</text><text transform="translate(1086,1022) rotate(-90)" class="r">A9</text><text transform="translate(1116,1022) rotate(-90)" class="r">A10</text><text transform="translate(1144,1022) rotate(-90)" class="r">A11</text><text transform="translate(1176,1022) rotate(-90)" class="r">A12</text><text transform="translate(1204,1022) rotate(-90)" class="r">A13</text><text transform="translate(1234,1022) rotate(-90)" class="r">A14</text><text transform="translate(1264,1022) rotate(-90)" class="r">A15</text>
<text transform="translate(1240,910) rotate(-90)" class="s" style="font-size:22px;font-weight:normal">DIGITAL</text>
</g>
<g>
<text x="1257" y="536" class="n">22</text><text x="1256" y="562" class="n">24</text><text x="1256" y="591" class="n">26</text><text x="1256" y="619" class="n">28</text><text x="1255" y="651" class="n">30</text><text x="1255" y="680" class="n">32</text><text x="1254" y="704" class="n">34</text><text x="1254" y="736" class="n">36</text><text x="1253" y="765" class="n">38</text><text x="1252" y="794" class="n">40</text><text x="1252" y="823" class="n">42</text><text x="1251" y="851" class="n">44</text><text x="1251" y="880" class="n">46</text><text x="1250" y="908" class="n">48</text><text x="1250" y="938" class="n">50</text><text x="1250" y="965" class="n">52</text>
</g>
<g>
<text x="301" y="565" class="r">C1</text><text x="303" y="587" class="r">R5</text><text x="306" y="609" class="r">R3</text><text x="305" y="631" class="r">R2</text><text x="304" y="654" class="r">R1</text><text x="303" y="677" class="r">R4</text><text x="315" y="712" class="r">C10</text>
<text x="491" y="633" class="r">C8</text><text x="491" y="657" class="r">C4</text><text x="488" y="683" class="r">R10</text><text x="488" y="707" class="r">R11</text><text x="486" y="735" class="r">R12</text><text x="486" y="755" class="r">R13</text><text x="486" y="779" class="r">C13</text>
<text x="604" y="633" class="r">C7</text><text x="605" y="659" class="r">R9</text><text x="607" y="684" class="r">TX</text><text x="606" y="708" class="r">RX</text>
<text x="326" y="800" class="r">C14</text><text x="379" y="799" class="r">R16</text><text x="438" y="799" class="r">R15</text><text x="486" y="800" class="r">C11</text><text x="383" y="836" class="r">C12</text>
<text x="537" y="817" class="r">R17</text><text x="594" y="818" class="r">R18</text><text x="581" y="863" class="r">L</text><text x="636" y="860" class="r">ON</text><text x="621" y="895" class="r">C5</text><text x="620" y="956" class="r">C6</text>
<text transform="translate(346,768) rotate(-90)" class="r">X1</text>
<text transform="translate(625,935) rotate(-90)" class="r">R14</text>
<text transform="translate(317,757) rotate(90)" class="r" style="font-size:12px">Q1</text>
<text x="497" y="1050" class="r">E1</text>
</g>

<!-- connectors -->
<g>
<path class="c" d="M167 282V395H447V668"/>
<path class="c" d="M697 385V433"/><path class="c" d="M554 488V433H1129V488"/><path class="c" d="M997 385V433"/><path class="c" d="M854 433V488"/>
<path class="c" d="M1323 488H1378V988H1317"/><path class="c" d="M1378 751H1411"/>
<path class="c" d="M1090 776H1151V1013H1446"/>
<path class="c" d="M171 751H226"/><path class="c" d="M127 933H262"/>
<path class="c" d="M514 1052V1151H752V1053"/><path class="c" d="M641 1151V1239"/>
<path class="c" d="M785 1053V1151H1275V1052"/><path class="c" d="M1040 1151V1239"/>
<path class="c" d="M834 814V1345"/>
</g>
<g class="d">
<circle cx="167" cy="282" r="5.5"/><circle cx="447" cy="668" r="5.5"/><circle cx="697" cy="385" r="5.5"/><circle cx="997" cy="385" r="5.5"/><circle cx="554" cy="488" r="5.5"/><circle cx="854" cy="488" r="5.5"/><circle cx="1129" cy="488" r="5.5"/><circle cx="1323" cy="488" r="5.5"/><circle cx="1317" cy="987" r="5.5"/><circle cx="1411" cy="751" r="5.5"/><circle cx="1090" cy="776" r="5.5"/><circle cx="1446" cy="1013" r="5.5"/><circle cx="171" cy="751" r="5.5"/><circle cx="226" cy="751" r="5.5"/><circle cx="127" cy="933" r="5.5"/><circle cx="262" cy="933" r="5.5"/><circle cx="514" cy="1052" r="5.5"/><circle cx="752" cy="1053" r="5.5"/><circle cx="641" cy="1239" r="5.5"/><circle cx="785" cy="1053" r="5.5"/><circle cx="1275" cy="1052" r="5.5"/><circle cx="1040" cy="1239" r="5.5"/><circle cx="834" cy="814" r="5.5"/><circle cx="834" cy="1345" r="5.5"/>
</g>

<!-- labels -->
<g>
<text class="l" x="173" y="238">ATMEGA 16u2</text><text class="l" x="173" y="265">for USB</text>
<text class="l" x="708" y="371">PWM Output</text><text class="l" x="990" y="371">Serial Communication</text>
<text class="l" x="85" y="744">Fuse for USB</text><text class="l" x="85" y="771">Protection</text>
<text class="l" x="60" y="940">DC Input</text>
<text class="l" x="1476" y="739">Digital Input/</text><text class="l" x="1476" y="767">Output</text>
<text class="l" x="1493" y="1016">Reset</text><text class="l" x="1493" y="1044">Button</text>
<text class="l" x="641" y="1277">Power Supply Module</text><text class="l" x="1049" y="1277">Analog Input</text>
<text class="l" x="829" y="1381">ATMEGA 2560</text>
</g>
</svg>
</body></html>
